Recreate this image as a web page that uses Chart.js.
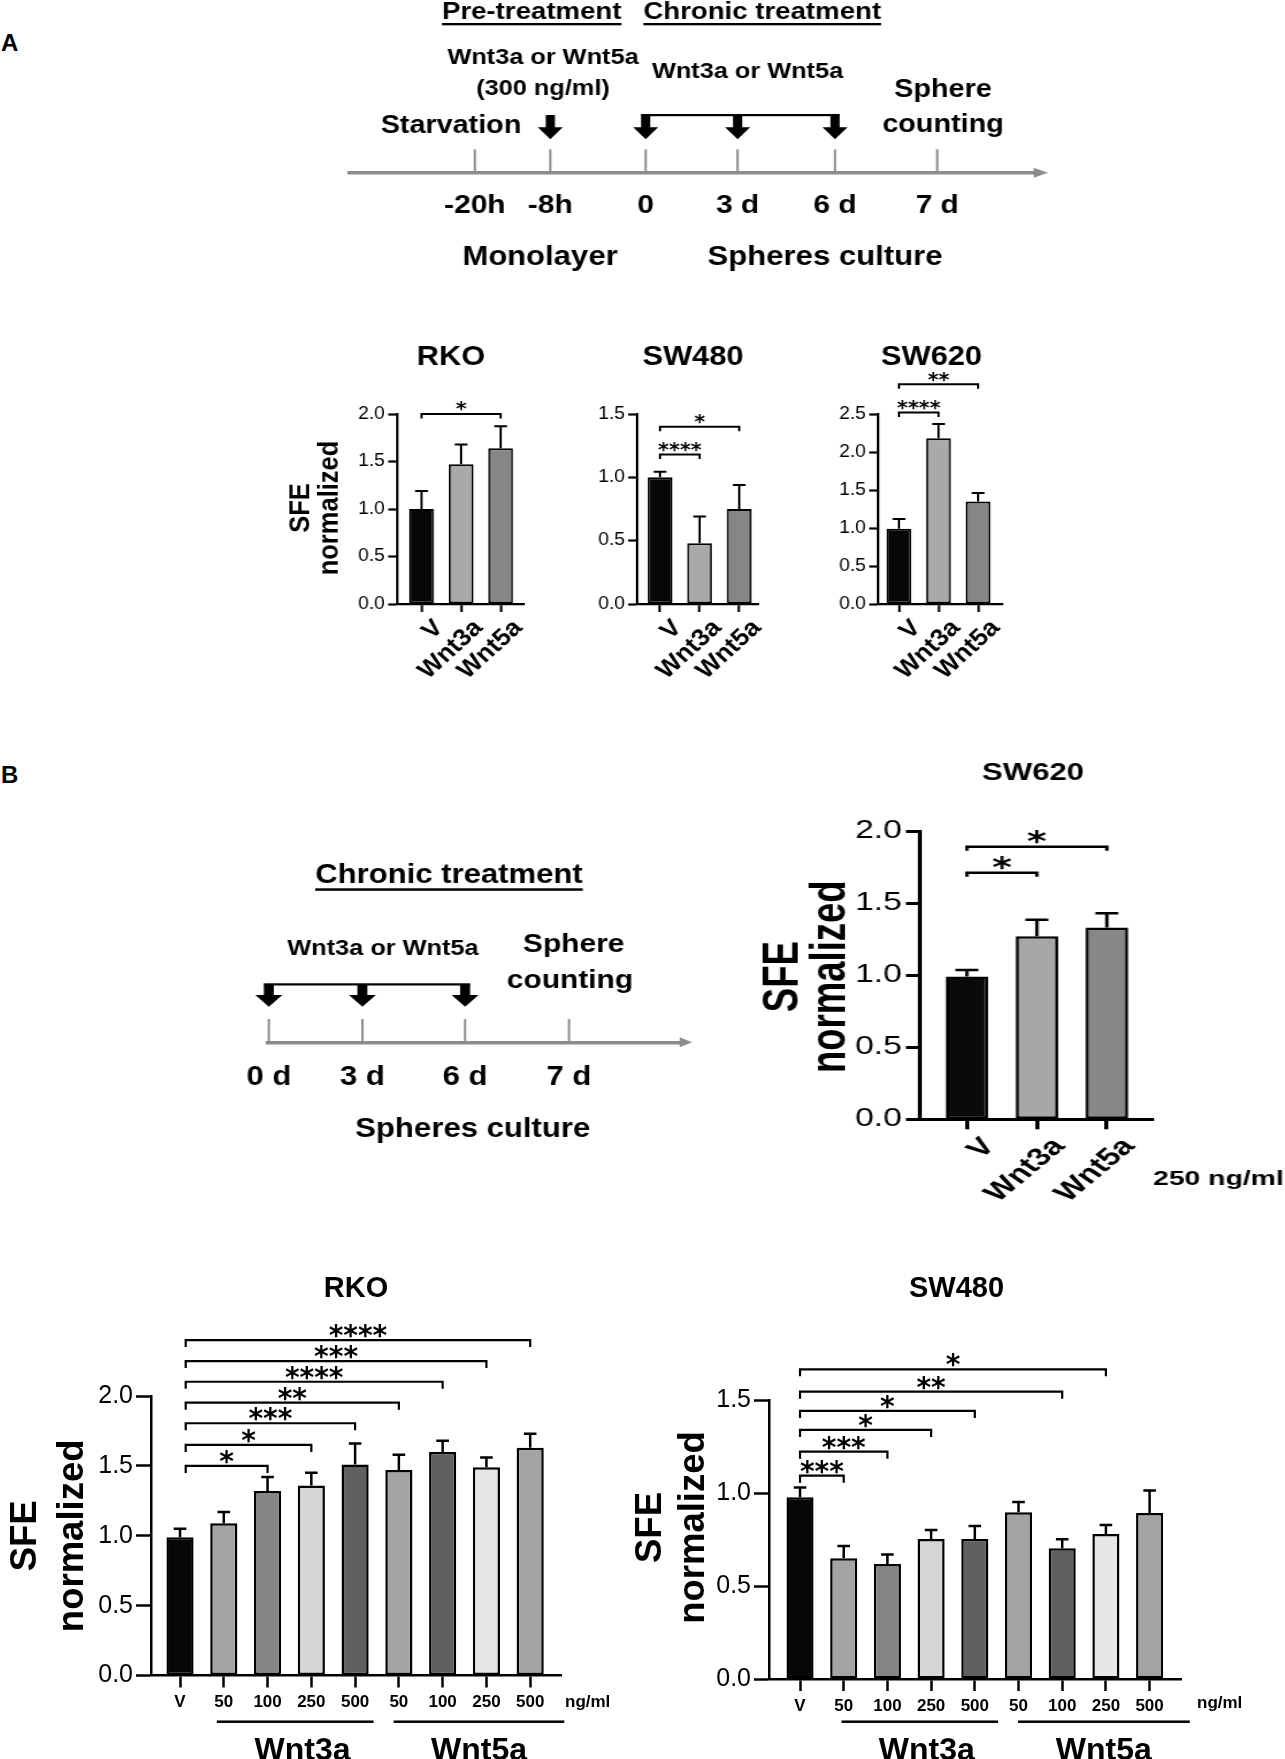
<!DOCTYPE html>
<html>
<head>
<meta charset="utf-8">
<title>Wnt3a / Wnt5a sphere formation</title>
<script src="https://cdn.jsdelivr.net/npm/chart.js@4.4.1/dist/chart.umd.min.js"></script>
<style>
html,body{margin:0;padding:0;background:#fff;}
#page{position:relative;width:1285px;height:1759px;overflow:hidden;background:#fff;}
#page canvas{position:absolute;left:0;top:0;}
.panel{position:absolute;font:bold 24px "Liberation Sans",Arial,sans-serif;line-height:1;color:#000;}
</style>
</head>
<body>
<div id="page">
  <div class="panel" style="left:1px;top:31px">A</div>
  <div class="panel" style="left:1px;top:763px">B</div>
  <canvas id="tlA"></canvas>
  <canvas id="aRko"></canvas>
  <canvas id="aSw480"></canvas>
  <canvas id="aSw620"></canvas>
  <canvas id="tlB"></canvas>
  <canvas id="bSw620"></canvas>
  <canvas id="dRko"></canvas>
  <canvas id="dSw480"></canvas>
</div>
<script>
// ---------- data ----------
// A: schedule
const tlALabels = ['-20h', '-8h', '0', '3 d', '6 d', '7 d'];
const tlAPos = [1.82, 2.92, 4.31, 5.65, 7.07, 8.56];
const tlAArrows = [1, 2, 3, 4];
// A: 300 ng/ml, three lines
const catsA = ['V', 'Wnt3a', 'Wnt5a'];
const colorsA = ['#070707', '#a9a9ac', '#868686'];
const rkoA = [1.0, 1.47, 1.64];
const rkoASem = [0.19, 0.21, 0.23];
const rkoASig = [[0, 2, 2.0, '*']];
const sw480A = [1.0, 0.48, 0.75];
const sw480ASem = [0.045, 0.21, 0.19];
const sw480ASig = [[0, 1, 1.18, '****'], [0, 2, 1.40, '*']];
const sw620A = [0.99, 2.18, 1.35];
const sw620ASem = [0.13, 0.19, 0.11];
const sw620ASig = [[0, 1, 2.52, '****'], [0, 2, 2.89, '**']];
// B: schedule
const tlBLabels = ['0 d', '3 d', '6 d', '7 d'];
const tlBPos = [0.02, 2.28, 4.76, 7.27];
const tlBArrows = [0, 1, 2];
// B: SW620 at 250 ng/ml
const colorsB = ['#0a0a0a', '#a7a7aa', '#878787'];
const sw620B = [0.99, 1.27, 1.33];
const sw620BSem = [0.045, 0.115, 0.10];
const sw620BSig = [[0, 1, 1.71, '*'], [0, 2, 1.89, '*']];
// B: dose response
const doseLabels = ['V', '50', '100', '250', '500', '50', '100', '250', '500'];
const doseColors = ['#070707', '#a3a3a6', '#858585', '#d6d6d6', '#606060', '#a3a3a6', '#606060', '#e7e7e7', '#a3a3a6'];
const rkoDose = [0.99, 1.09, 1.32, 1.36, 1.51, 1.47, 1.60, 1.49, 1.63];
const rkoDoseSem = [0.06, 0.08, 0.10, 0.09, 0.15, 0.11, 0.08, 0.07, 0.10];
const rkoDoseSig = [[0, 2, 1.50, '*'], [0, 3, 1.65, '*'], [0, 4, 1.805, '***'], [0, 5, 1.952, '**'],
                    [0, 6, 2.102, '****'], [0, 7, 2.25, '***'], [0, 8, 2.40, '****']];
const sw480Dose = [0.977, 0.649, 0.618, 0.753, 0.753, 0.896, 0.703, 0.780, 0.892];
const sw480DoseSem = [0.053, 0.066, 0.052, 0.048, 0.07, 0.056, 0.048, 0.048, 0.121];
const sw480DoseSig = [[0, 1, 1.093, '***'], [0, 2, 1.222, '***'], [0, 3, 1.339, '*'],
                      [0, 4, 1.441, '*'], [0, 6, 1.545, '**'], [0, 7, 1.665, '*']];
const groupNames = ['Wnt3a', 'Wnt5a'];

// ---------- helpers ----------
const FONT = '"Liberation Sans", Arial, Helvetica, sans-serif';
const STAR = '"DejaVu Sans", "Liberation Sans", sans-serif';
const GREY = '#8c8c8c';
const PW = 1285, PH = 1759;

// every canvas covers the page; sx stretches it horizontally like the source panels
function prepCanvas(id, sx) {
  const cv = document.getElementById(id);
  const cw = Math.round(PW / sx);
  cv.width = cw; cv.height = PH;
  cv.style.width = PW + 'px'; cv.style.height = PH + 'px';
  return { cv, cw, sx: PW / cw };
}

function text(ctx, sx, t) {
  ctx.save();
  ctx.font = `${t.bold === false ? '' : 'bold '}${t.size}px ${FONT}`;
  ctx.textAlign = t.align || 'center';
  ctx.textBaseline = t.base || 'alphabetic';
  ctx.fillStyle = '#000';
  ctx.fillText(t.s, t.x / sx, t.y);
  if (t.under) {
    const w = ctx.measureText(t.s).width;
    const x0 = t.x / sx - (ctx.textAlign === 'center' ? w / 2 : 0);
    ctx.fillRect(x0, t.y + t.under[0], w, t.under[1]);
  }
  ctx.restore();
}

function yTitle(ctx, sx, yt) {
  ctx.save();
  ctx.font = `bold ${yt.size}px ${FONT}`;
  ctx.textAlign = 'center'; ctx.textBaseline = 'middle'; ctx.fillStyle = '#000';
  yt.lines.forEach((s, i) => {
    ctx.save(); ctx.translate(yt.xs[i] / sx, yt.y); ctx.rotate(-Math.PI / 2);
    ctx.fillText(s, 0, 0); ctx.restore();
  });
  ctx.restore();
}

function barChart(id, o) {
  const { cv, cw, sx } = prepCanvas(id, o.sx);
  const yW = 100, xH = o.xH;
  const [L, T, R, B] = o.area;
  const s0 = o.sigStart || 0;
  const decor = {
    id: 'decor',
    afterDraw(c) {
      const ctx = c.ctx, xs = c.scales.x, ys = c.scales.y;
      ctx.save();
      ctx.strokeStyle = '#000'; ctx.fillStyle = '#000'; ctx.lineCap = 'butt'; ctx.lineJoin = 'miter';
      // SEM, upper whisker only
      ctx.lineWidth = o.errW;
      o.mean.forEach((m, i) => {
        const x = xs.getPixelForValue(i), y0 = ys.getPixelForValue(m), y1 = ys.getPixelForValue(m + o.sem[i]);
        ctx.beginPath(); ctx.moveTo(x, y0); ctx.lineTo(x, y1);
        ctx.moveTo(x - o.cap, y1); ctx.lineTo(x + o.cap, y1); ctx.stroke();
      });
      // significance brackets
      ctx.lineWidth = o.brW;
      ctx.font = `bold ${o.star}px ${STAR}`; ctx.textAlign = 'center'; ctx.textBaseline = 'alphabetic';
      o.sig.forEach(([a, b, v, s]) => {
        const x1 = xs.getPixelForValue(a + s0), x2 = xs.getPixelForValue(b), y = ys.getPixelForValue(v);
        ctx.beginPath(); ctx.moveTo(x1, y + o.leg); ctx.lineTo(x1, y); ctx.lineTo(x2, y); ctx.lineTo(x2, y + o.leg); ctx.stroke();
        ctx.fillText(s, (x1 + x2) / 2, y - o.starGap + 0.55 * o.star);
      });
      // dose group underlines
      if (o.groups) {
        o.groups.forEach(g => {
          const x1 = xs.getPixelForValue(g.from), x2 = xs.getPixelForValue(g.to);
          ctx.fillRect(x1, o.groupY - o.groupW / 2, x2 - x1, o.groupW);
          text(ctx, 1, { s: g.s, x: xs.getPixelForValue(g.at), y: o.groupTextY, size: o.groupSize });
        });
      }
      ctx.restore();
      (o.texts || []).forEach(t => text(ctx, sx, t));
      if (o.ytitle) yTitle(ctx, sx, o.ytitle);
    }
  };
  return new Chart(cv, {
    type: 'bar',
    data: {
      datasets: [{
        data: o.mean.map((v, i) => ({ x: i, y: v })),
        backgroundColor: o.colors, borderColor: '#000', borderWidth: o.barW, borderSkipped: false,
        barPercentage: o.barPct, categoryPercentage: 1
      }]
    },
    options: {
      responsive: false, animation: false, devicePixelRatio: 1, events: [],
      layout: { autoPadding: false, padding: { left: L / sx - yW, top: T, right: cw - R / sx, bottom: PH - B - xH } },
      plugins: { legend: { display: false }, tooltip: { enabled: false } },
      scales: {
        x: {
          type: 'linear', min: o.xmin, max: o.xmax, offset: false,
          afterFit: s => { s.height = xH; s.paddingLeft = 0; s.paddingRight = 0; },
          border: { color: '#000', width: o.axisW },
          grid: { offset: false, drawOnChartArea: false, tickLength: o.xTick, tickWidth: o.axisW, tickColor: '#000' },
          ticks: {
            stepSize: 1, includeBounds: false, autoSkip: false, minRotation: o.rot, maxRotation: o.rot,
            padding: o.xPad, labelOffset: o.xOff || 0, color: '#000',
            font: { family: FONT, size: o.xFont, weight: 'bold' },
            callback: v => o.labels[v]
          }
        },
        y: {
          min: 0, max: o.ymax,
          afterFit: s => { s.width = yW; s.paddingTop = 0; s.paddingBottom = 0; },
          border: { color: '#000', width: o.axisW },
          grid: { drawOnChartArea: false, tickLength: o.yTick, tickWidth: o.axisW, tickColor: '#000' },
          ticks: { stepSize: 0.5, padding: o.yPad, color: '#000', font: { family: FONT, size: o.yFont }, callback: v => v.toFixed(1) }
        }
      }
    },
    plugins: [decor]
  });
}

function downArrow(ctx, x, a, sx) {
  const sh = a.shaft / sx, hh = a.head / sx;
  ctx.beginPath();
  ctx.moveTo(x - sh, a.top); ctx.lineTo(x + sh, a.top); ctx.lineTo(x + sh, a.neck);
  ctx.lineTo(x + hh, a.neck); ctx.lineTo(x, a.tip); ctx.lineTo(x - hh, a.neck);
  ctx.lineTo(x - sh, a.neck); ctx.closePath(); ctx.fill();
}

function timeline(id, o) {
  const { cv, cw, sx } = prepCanvas(id, o.sx);
  const xH = 80;
  const deco = {
    id: 'schedule',
    afterDraw(c) {
      const ctx = c.ctx, xs = c.scales.x, y0 = c.chartArea.bottom, xe = c.chartArea.right;
      ctx.save();
      ctx.strokeStyle = GREY; ctx.fillStyle = GREY; ctx.lineWidth = 2;
      o.pos.forEach(p => {
        const x = xs.getPixelForValue(p);
        ctx.beginPath(); ctx.moveTo(x, y0); ctx.lineTo(x, y0 - o.tickH); ctx.stroke();
      });
      ctx.beginPath();
      ctx.moveTo(xe - 2, y0 - 5); ctx.lineTo(xe + o.tipLen / sx, y0); ctx.lineTo(xe - 2, y0 + 5); ctx.closePath(); ctx.fill();
      ctx.fillStyle = '#000'; ctx.strokeStyle = '#000';
      const ax = o.arrows.map(i => xs.getPixelForValue(o.pos[i]));
      ax.forEach(x => downArrow(ctx, x, o.arrow, sx));
      const a0 = ax[o.link[0]], a1 = ax[o.link[1]];
      ctx.fillRect(a0 - o.arrow.shaft / sx, o.arrow.top - 1, a1 - a0 + 2 * o.arrow.shaft / sx, 2.2);
      ctx.restore();
      o.texts.forEach(t => text(ctx, sx, t));
    }
  };
  return new Chart(cv, {
    type: 'scatter',
    data: { datasets: [{ data: [] }] },
    options: {
      responsive: false, animation: false, devicePixelRatio: 1, events: [],
      layout: { autoPadding: false, padding: { left: o.left / sx, top: 0, right: cw - o.right / sx, bottom: PH - o.axisY - xH } },
      plugins: { legend: { display: false }, tooltip: { enabled: false } },
      scales: {
        x: {
          type: 'linear', min: 0, max: 10,
          afterBuildTicks: s => { s.ticks = o.pos.map(v => ({ value: v })); },
          afterFit: s => { s.height = xH; s.paddingLeft = 0; s.paddingRight = 0; },
          border: { color: GREY, width: 3.5 },
          grid: { display: false, drawTicks: false },
          ticks: {
            autoSkip: false, maxRotation: 0, padding: o.tickPad, color: '#000',
            font: { family: FONT, size: o.tickFont, weight: 'bold' },
            callback: (v, i) => o.labels[i]
          }
        },
        y: { display: false }
      }
    },
    plugins: [deco]
  });
}

// ---------- panel A ----------
timeline('tlA', {
  sx: 1.15, left: 350, right: 1036, axisY: 172.7, pos: tlAPos, labels: tlALabels,
  tickFont: 26, tickPad: 18, tickH: 23.4, tipLen: 12,
  arrows: tlAArrows, link: [1, 3],
  arrow: { top: 115, neck: 127.3, tip: 139.3, shaft: 4.6, head: 12.5 },
  texts: [
    { s: 'Pre-treatment', x: 531.7, y: 19, size: 24, under: [4, 2.3] },
    { s: 'Chronic treatment', x: 762.2, y: 19, size: 24, under: [4, 2.3] },
    { s: 'Wnt3a or Wnt5a', x: 543, y: 64, size: 22 },
    { s: '(300 ng/ml)', x: 543, y: 94.5, size: 22 },
    { s: 'Wnt3a or Wnt5a', x: 747.5, y: 78.3, size: 22 },
    { s: 'Starvation', x: 451, y: 133.3, size: 25 },
    { s: 'Sphere', x: 943, y: 97, size: 25 },
    { s: 'counting', x: 943, y: 131.7, size: 25 },
    { s: 'Monolayer', x: 540, y: 265, size: 27 },
    { s: 'Spheres culture', x: 825, y: 265, size: 27 }
  ]
});

const aCommon = {
  sx: 1.1, labels: catsA, colors: colorsA, barPct: 0.63, barW: 2, errW: 2, cap: 5.8,
  brW: 2, leg: 4.5, star: 19, starGap: 9, axisW: 2.2, xTick: 8, yTick: 8, xH: 110,
  xFont: 24, rot: 45, xPad: 2, xOff: 16, yFont: 17.5, yPad: 3
};
barChart('aRko', Object.assign({}, aCommon, {
  area: [397, 414, 524, 604], xmin: -0.62, xmax: 2.59, ymax: 2.0,
  mean: rkoA, sem: rkoASem, sig: rkoASig,
  texts: [{ s: 'RKO', x: 451, y: 365, size: 28 }],
  ytitle: { lines: ['SFE', 'normalized'], xs: [301, 330], y: 508, size: 25.5 }
}));
barChart('aSw480', Object.assign({}, aCommon, {
  area: [637, 414, 759, 604], xmin: -0.58, xmax: 2.5, ymax: 1.5,
  mean: sw480A, sem: sw480ASem, sig: sw480ASig,
  texts: [{ s: 'SW480', x: 693, y: 365, size: 28 }]
}));
barChart('aSw620', Object.assign({}, aCommon, {
  area: [878, 414, 1003, 604], xmin: -0.53, xmax: 2.63, ymax: 2.5,
  mean: sw620A, sem: sw620ASem, sig: sw620ASig,
  texts: [{ s: 'SW620', x: 931.6, y: 365, size: 28 }]
}));

// ---------- panel B ----------
timeline('tlB', {
  sx: 1.15, left: 268, right: 682, axisY: 1042.3, pos: tlBPos, labels: tlBLabels,
  tickFont: 27, tickPad: 19.3, tickH: 23.3, tipLen: 10,
  arrows: tlBArrows, link: [0, 2],
  arrow: { top: 984.3, neck: 995, tip: 1006.7, shaft: 5, head: 13.5 },
  texts: [
    { s: 'Chronic treatment', x: 449, y: 883.3, size: 27, under: [5, 2.5] },
    { s: 'Wnt3a or Wnt5a', x: 383, y: 955, size: 22 },
    { s: 'Sphere', x: 573.7, y: 951.7, size: 26 },
    { s: 'counting', x: 570, y: 988.3, size: 26 },
    { s: 'Spheres culture', x: 472.7, y: 1136.7, size: 27 }
  ]
});

barChart('bSw620', {
  sx: 1.35, area: [920, 831, 1153, 1119.3], xmin: -0.67, xmax: 2.66, ymax: 2.0,
  labels: catsA, colors: colorsB, mean: sw620B, sem: sw620BSem, sig: sw620BSig,
  barPct: 0.61, barW: 2.5, errW: 2.5, cap: 8.5, brW: 2.5, leg: 4, star: 28, starGap: 11,
  axisW: 3, xTick: 10, yTick: 10.4, xH: 130, xFont: 25, rot: 48, xPad: 3, xOff: 16.5, yFont: 25, yPad: 3,
  texts: [
    { s: 'SW620', x: 1033, y: 780, size: 23 },
    { s: '250 ng/ml', x: 1153, y: 1185, size: 21, align: 'left' }
  ],
  ytitle: { lines: ['SFE', 'normalized'], xs: [784.6, 831], y: 976.7, size: 36.5 }
});

const dCommon = {
  sx: 1, labels: doseLabels, colors: doseColors, barPct: 0.62, barW: 2.5, errW: 2.5, cap: 6.3,
  brW: 2.2, leg: 7, star: 28, starGap: 10.5, axisW: 2.5, xTick: 12, yTick: 15, xH: 60,
  xFont: 17, rot: 0, xPad: 5, yFont: 25, yPad: 3,
  groupY: 1721.7, groupW: 2.5, groupTextY: 1759.5, groupSize: 32
};
barChart('dRko', Object.assign({}, dCommon, {
  area: [151, 1396, 561.7, 1675.5], xmin: -0.663, xmax: 8.72, ymax: 2.0, sigStart: 0.13,
  mean: rkoDose, sem: rkoDoseSem, sig: rkoDoseSig,
  groups: [{ s: groupNames[0], from: 0.84, to: 4.42, at: 2.8 }, { s: groupNames[1], from: 4.88, to: 8.78, at: 6.83 }],
  texts: [
    { s: 'RKO', x: 356, y: 1297, size: 29 },
    { s: 'ng/ml', x: 565, y: 1702, size: 17, align: 'left', base: 'middle' }
  ],
  ytitle: { lines: ['SFE', 'normalized'], xs: [26, 73], y: 1535.8, size: 36.5 }
}));
barChart('dSw480', Object.assign({}, dCommon, {
  area: [769, 1400, 1181.5, 1679], xmin: -0.71, xmax: 8.73, ymax: 1.5,
  mean: sw480Dose, sem: sw480DoseSem, sig: sw480DoseSig,
  groups: [{ s: groupNames[0], from: 0.95, to: 4.53, at: 2.9 }, { s: groupNames[1], from: 4.99, to: 8.92, at: 6.95 }],
  texts: [
    { s: 'SW480', x: 956.5, y: 1297, size: 29 },
    { s: 'ng/ml', x: 1197, y: 1703, size: 17, align: 'left', base: 'middle' }
  ],
  ytitle: { lines: ['SFE', 'normalized'], xs: [651, 694], y: 1527.5, size: 36.5 }
}));
</script>
</body>
</html>
